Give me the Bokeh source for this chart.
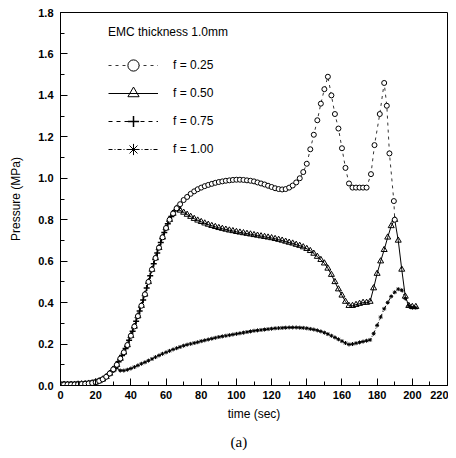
from bokeh.plotting import figure
from bokeh.models import (Legend, LegendItem, SingleIntervalTicker, PrintfTickFormatter, Title)
from bokeh.embed import file_html
from bokeh.resources import INLINE

# ---------------- data ----------------
t_050 = [0, 2, 4, 6, 8, 10, 12, 14, 16, 18, 20, 22, 24, 26, 28, 30, 32, 34, 36, 38,
         40, 42, 44, 46, 48, 50, 52, 54, 56, 58, 60, 62, 64, 66, 68, 70, 72, 74, 76, 78,
         80, 82, 84, 86, 88, 90, 92, 94, 96, 98, 100, 102, 104, 106, 108, 110, 112, 114, 116, 118,
         120, 122, 124, 126, 128, 130, 132, 134, 136, 138, 140, 142, 144, 146, 148, 150, 152, 154, 156, 158,
         160, 162, 164, 166, 168, 170, 172, 174, 176, 178, 180, 182, 184, 186, 188, 190, 192, 194, 196, 198,
         200, 202]
p_050 = [0.005, 0.005, 0.005, 0.005, 0.005, 0.006, 0.007, 0.008, 0.010, 0.012, 0.016, 0.022, 0.030, 0.042, 0.058, 0.078, 0.100, 0.130, 0.160, 0.195,
         0.240, 0.285, 0.335, 0.385, 0.440, 0.500, 0.560, 0.615, 0.665, 0.715, 0.760, 0.800, 0.830, 0.855, 0.845, 0.835, 0.825, 0.815, 0.805, 0.797,
         0.790, 0.783, 0.777, 0.771, 0.766, 0.761, 0.757, 0.753, 0.749, 0.746, 0.742, 0.739, 0.736, 0.733, 0.730, 0.727, 0.724, 0.721, 0.718, 0.715,
         0.712, 0.708, 0.704, 0.700, 0.695, 0.690, 0.686, 0.680, 0.675, 0.668, 0.660, 0.650, 0.637, 0.622, 0.607, 0.590, 0.565, 0.535, 0.500, 0.465,
         0.435, 0.405, 0.385, 0.385, 0.390, 0.395, 0.400, 0.400, 0.405, 0.470, 0.540, 0.600, 0.655, 0.715, 0.770, 0.800, 0.700, 0.560, 0.430, 0.385,
         0.380, 0.380]

t_025 = [0, 2, 4, 6, 8, 10, 12, 14, 16, 18, 20, 22, 24, 26, 28, 30, 32, 34, 36, 38,
         40, 42, 44, 46, 48, 50, 52, 54, 56, 58, 60, 62, 64, 66, 68, 70, 72, 74, 76, 78,
         80, 82, 84, 86, 88, 90, 92, 94, 96, 98, 100, 102, 104, 106, 108, 110, 112, 114, 116, 118,
         120, 122, 124, 126, 128, 130, 132, 134, 136, 138, 140, 142, 144, 146, 148, 150, 152, 154, 156, 158,
         160, 162, 164, 166, 168, 170, 172, 174, 176.5, 178.5, 181.5, 184, 185.5, 187, 189.5, 190]
p_025 = [0.005, 0.005, 0.005, 0.005, 0.005, 0.006, 0.007, 0.008, 0.010, 0.012, 0.016, 0.022, 0.030, 0.042, 0.058, 0.078, 0.100, 0.130, 0.160, 0.195,
         0.240, 0.285, 0.335, 0.385, 0.440, 0.500, 0.560, 0.615, 0.665, 0.715, 0.760, 0.800, 0.830, 0.855, 0.875, 0.895, 0.910, 0.925, 0.937, 0.947,
         0.955, 0.962, 0.968, 0.973, 0.978, 0.982, 0.985, 0.988, 0.990, 0.992, 0.993, 0.993, 0.992, 0.990, 0.988, 0.985, 0.980, 0.975, 0.970, 0.964,
         0.958, 0.952, 0.948, 0.946, 0.948, 0.955, 0.965, 0.980, 1.000, 1.030, 1.070, 1.140, 1.210, 1.280, 1.360, 1.430, 1.490, 1.400, 1.310, 1.240,
         1.145, 1.050, 0.975, 0.955, 0.955, 0.955, 0.955, 0.955, 1.020, 1.160, 1.310, 1.460, 1.350, 1.120, 0.890, 0.800]

t_075 = [1, 3, 5, 7, 9, 11, 13, 15, 17, 19, 21, 23, 25, 27, 29, 31, 33, 35, 37, 39,
         41, 43, 45, 47, 49, 51, 53, 55, 57, 59, 61, 63, 65, 67]
p_075 = [0.005, 0.005, 0.005, 0.005, 0.006, 0.006, 0.007, 0.009, 0.011, 0.014, 0.019, 0.026, 0.036, 0.050, 0.068, 0.089, 0.115, 0.145, 0.178, 0.218,
         0.262, 0.310, 0.360, 0.412, 0.470, 0.530, 0.588, 0.640, 0.690, 0.738, 0.780, 0.815, 0.843, 0.855]

t_100 = [0, 2, 4, 6, 8, 10, 12, 14, 16, 18, 20, 22, 24, 26, 28, 30, 32, 34, 36, 38,
         40, 42, 44, 46, 48, 50, 52, 54, 56, 58, 60, 62, 64, 66, 68, 70, 72, 74, 76, 78,
         80, 82, 84, 86, 88, 90, 92, 94, 96, 98, 100, 102, 104, 106, 108, 110, 112, 114, 116, 118,
         120, 122, 124, 126, 128, 130, 132, 134, 136, 138, 140, 142, 144, 146, 148, 150, 152, 154, 156, 158,
         160, 162, 164, 166, 168, 170, 172, 174, 176, 178, 180, 182, 184, 186, 188, 190, 192, 194, 196, 198,
         200, 202]
p_100 = [0.003, 0.003, 0.003, 0.003, 0.004, 0.004, 0.005, 0.006, 0.008, 0.011, 0.015, 0.020, 0.028, 0.038, 0.052, 0.070, 0.085, 0.072, 0.072, 0.076,
         0.082, 0.089, 0.097, 0.105, 0.112, 0.120, 0.128, 0.137, 0.145, 0.153, 0.160, 0.167, 0.174, 0.180, 0.186, 0.192, 0.197, 0.201, 0.205, 0.209,
         0.214, 0.218, 0.222, 0.226, 0.230, 0.234, 0.237, 0.240, 0.243, 0.246, 0.249, 0.252, 0.255, 0.258, 0.261, 0.264, 0.266, 0.268, 0.270, 0.272,
         0.274, 0.276, 0.277, 0.278, 0.279, 0.280, 0.280, 0.280, 0.279, 0.278, 0.276, 0.273, 0.270, 0.266, 0.261, 0.255, 0.248, 0.240, 0.232, 0.223,
         0.214, 0.205, 0.198, 0.200, 0.204, 0.208, 0.212, 0.216, 0.220, 0.250, 0.290, 0.330, 0.370, 0.400, 0.430, 0.450, 0.465, 0.460, 0.420, 0.385,
         0.375, 0.375]

x_ticks_step = 20
y_ticks_step = 0.2
legend_title = "EMC thickness 1.0mm"
labels = ["f = 0.25", "f = 0.50", "f = 0.75", "f = 1.00"]
caption = "(a)"

# ---------------- figure ----------------
FONT = "Liberation Sans"
W, H = 448, 458
p = figure(width=W, height=H, x_range=(0, 220), y_range=(0, 1.8),
           output_backend="svg", toolbar_location=None,
           min_border_left=60, min_border_right=W - 447, min_border_top=12,
           min_border_bottom=H - 385)
p.grid.visible = False
p.outline_line_color = "black"
p.outline_line_width = 1
p.background_fill_color = "white"
p.border_fill_color = "white"

p.xaxis.ticker = SingleIntervalTicker(interval=x_ticks_step, num_minor_ticks=2)
p.yaxis.ticker = SingleIntervalTicker(interval=y_ticks_step, num_minor_ticks=2)
p.yaxis.formatter = PrintfTickFormatter(format="%.1f")
for ax in (p.xaxis[0], p.yaxis[0]):
    ax.major_tick_in = 7
    ax.major_tick_out = 0
    ax.minor_tick_in = 4
    ax.minor_tick_out = 0
    ax.axis_line_color = "black"
    ax.major_tick_line_color = "black"
    ax.minor_tick_line_color = "black"
    ax.major_label_text_font = FONT
    ax.major_label_text_font_size = "11px"
    ax.major_label_text_font_style = "bold"
    ax.major_label_text_color = "black"
    ax.axis_label_text_font = FONT
    ax.axis_label_text_font_size = "12px"
    ax.axis_label_text_font_style = "normal"
    ax.axis_label_text_color = "black"
p.xaxis.axis_label = "time (sec)"
p.yaxis.axis_label = "Pressure (MPa)"
p.xaxis.major_label_standoff = 5
p.xaxis.axis_label_standoff = 5
p.yaxis.major_label_standoff = 7
p.yaxis.axis_label_standoff = 12

# series
l100 = p.line(t_100, p_100, line_color="black", line_width=1, line_dash="4 2 1 2")
s100 = p.scatter(t_100, p_100, marker="asterisk", size=4, line_color="black", line_width=1)

l050 = p.line(t_050, p_050, line_color="black", line_width=1)
s050 = p.scatter(t_050, p_050, marker="triangle", size=6, line_color="black",
                 fill_alpha=0, line_width=1)

l075 = p.line(t_075, p_075, line_color="black", line_width=1, line_dash="4 4")
s075 = p.scatter(t_075, p_075, marker="cross", size=6, line_color="black", line_width=1.5)

l025 = p.line(t_025, p_025, line_color="black", line_width=0.8, line_dash="3 4")
s025 = p.scatter(t_025, p_025, marker="circle", size=5, line_color="black",
                 fill_color="white", line_width=1)

legend = Legend(items=[
    LegendItem(label=labels[0], renderers=[l025, s025]),
    LegendItem(label=labels[1], renderers=[l050, s050]),
    LegendItem(label=labels[2], renderers=[l075, s075]),
    LegendItem(label=labels[3], renderers=[l100, s100]),
], location=(48, 222), title=legend_title)
legend.padding = 0
legend.margin = 0
legend.spacing = 0
legend.glyph_width = 50
legend.glyph_height = 28
legend.label_height = 28
legend.label_standoff = 15
legend.title_standoff = 12
legend.border_line_color = None
legend.background_fill_alpha = 0
legend.label_text_font = FONT
legend.label_text_font_size = "12px"
legend.title_text_font = FONT
legend.title_text_font_size = "12px"
legend.title_text_font_style = "normal"
legend.label_text_color = "black"
legend.title_text_color = "black"
p.add_layout(legend, "center")

cap = Title(text=caption, align="left", offset=170, standoff=17,
            text_font="Liberation Serif", text_font_size="15px",
            text_font_style="normal", text_color="black")
p.add_layout(cap, "below")

open("out.html", "w").write(file_html(p, INLINE))
